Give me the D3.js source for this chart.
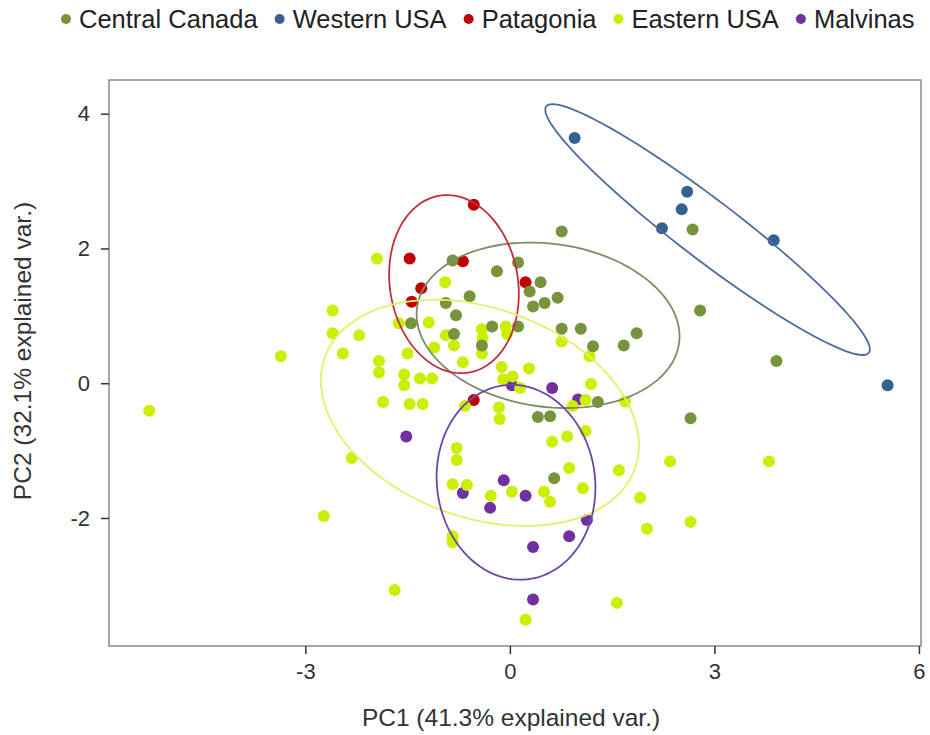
<!DOCTYPE html>
<html>
<head>
<meta charset="utf-8">
<script src="https://cdn.jsdelivr.net/npm/d3@7"></script>
<style>
  html, body { margin: 0; padding: 0; background: #fff; }
  svg { display: block; font-family: "Liberation Sans", Arial, sans-serif; }
</style>
</head>
<body>
<svg id="chart" width="930" height="735"></svg>
<script>
// ---------------- DATA ----------------
const groups = ["Central Canada", "Western USA", "Patagonia", "Eastern USA", "Malvinas"];
const groupColors = ["#77933C", "#376092", "#C00000", "#CCEE00", "#7030A0"];
const ellipseColors = ["#7d8c68", "#4a6d9a", "#c0303a", "#e4f06a", "#6f46a8"];

const centralCanadaPC1 = [0.76, 2.68, 2.79, 3.91, 2.65, -0.84, -0.19, 0.12, 0.45, 0.29, 0.70, 0.34, 0.51, -0.59, -0.94, -0.79, -1.45, -0.26, 0.12, 0.76, 1.04, 1.86, 1.67, 1.22, -0.82, -0.41, 0.41, 0.59, 1.29, 0.65];
const centralCanadaPC2 = [2.25, 2.28, 1.08, 0.33, -0.52, 1.82, 1.66, 1.79, 1.50, 1.36, 1.27, 1.14, 1.19, 1.29, 1.19, 1.01, 0.89, 0.84, 0.84, 0.81, 0.81, 0.74, 0.56, 0.55, 0.73, 0.56, -0.50, -0.49, -0.28, -1.41];

const westernUSAPC1 = [0.95, 2.60, 2.52, 2.23, 3.87, 5.54];
const westernUSAPC2 = [3.64, 2.84, 2.58, 2.30, 2.12, -0.03];

const patagoniaPC1 = [-0.53, -1.47, -0.69, -1.30, -1.44, 0.23, -0.53];
const patagoniaPC2 = [2.65, 1.85, 1.81, 1.41, 1.21, 1.50, -0.25];

const easternUSAPC1 = [-5.29, -3.36, -2.73, -1.69, -2.32, -1.86, -2.60, -2.60, -2.45, -2.21, -1.95, -1.92, -1.92, -1.55, -1.55, -1.63, -1.50, -1.47, -1.28, -1.32, -1.14, -1.19, -1.11, -0.95, -0.94, -0.82, -0.41, -0.40, -0.41, -0.69, -0.06, -0.04, -0.12, 0.04, -0.10, 0.28, 0.15, -0.16, -0.15, -0.66, 0.76, 1.17, 1.19, 0.92, 1.11, 1.69, 0.84, 1.11, 0.62, -0.78, -0.78, 0.87, 1.60, 1.07, -0.84, -0.63, -0.28, 0.03, 0.50, 0.59, 1.91, 2.01, 2.65, 2.35, 3.80, -0.84, -0.84, 1.57, 0.23];
const easternUSAPC2 = [-0.41, 0.40, -1.97, -3.07, -1.11, -0.28, 1.08, 0.74, 0.44, 0.71, 1.85, 0.33, 0.16, 0.13, -0.03, 0.89, 0.44, -0.31, -0.31, 0.07, 0.07, 0.90, 0.53, 1.50, 0.71, 0.56, 0.80, 0.67, 0.44, 0.31, 0.84, 0.73, 0.24, 0.10, 0.06, 0.22, -0.07, -0.36, -0.53, -0.34, 0.62, 0.40, -0.01, -0.34, -0.25, -0.27, -0.79, -0.71, -0.87, -0.96, -1.14, -1.26, -1.29, -1.56, -1.50, -1.51, -1.67, -1.61, -1.61, -1.76, -1.70, -2.16, -2.06, -1.16, -1.16, -2.27, -2.36, -3.26, -3.51];

const malvinasPC1 = [0.62, 1.00, -1.52, -0.09, -0.69, 0.23, -0.29, 1.13, 0.87, 0.34, 0.34, 0.03];
const malvinasPC2 = [-0.07, -0.24, -0.79, -1.44, -1.63, -1.67, -1.85, -2.03, -2.27, -2.43, -3.21, -0.03];

// ellipse parameters per group (data units): centre, semi-axes, rotation (deg)
const ellipseCX = [0.56, 2.90, -0.82, -0.44, 0.09];
const ellipseCY = [0.86, 2.28, 1.47, -0.44, -1.47];
const ellipseA  = [1.94, 2.99, 1.33, 2.42, 1.45];
const ellipseB  = [1.21, 0.44, 0.94, 1.55, 1.16];
const ellipseAngle = [-8, -37.7, 99, -20.3, 97];

const xTicks = [-3, 0, 3, 6];
const yTicks = [-2, 0, 2, 4];
const xTitle = "PC1 (41.3% explained var.)";
const yTitle = "PC2 (32.1% explained var.)";

// ---------------- CHART ----------------
const svg = d3.select("#chart");
const mLeft = 109, mRight = 921, mTop = 80, mBottom = 646;

const x = d3.scaleLinear().domain([-5.88, 6.03]).range([mLeft, mRight]);
const y = d3.scaleLinear().domain([-3.90, 4.50]).range([mBottom, mTop]);

svg.append("rect").attr("width", 930).attr("height", 735).attr("fill", "#fff");

const seriesX = [centralCanadaPC1, westernUSAPC1, patagoniaPC1, easternUSAPC1, malvinasPC1];
const seriesY = [centralCanadaPC2, westernUSAPC2, patagoniaPC2, easternUSAPC2, malvinasPC2];

// draw order of point layers
const drawOrder = [4, 2, 3, 0, 1];
const pts = svg.append("g");
drawOrder.forEach(gi => {
  const data = seriesX[gi].map((v, i) => ({x: v, y: seriesY[gi][i]}));
  pts.selectAll(null).data(data).enter().append("circle")
    .attr("cx", d => x(d.x)).attr("cy", d => y(d.y)).attr("r", 6)
    .attr("fill", groupColors[gi]);
});

// ellipses
const line = d3.line().x(d => x(d[0])).y(d => y(d[1]));
const el = svg.append("g").attr("fill", "none").attr("stroke-width", 1.8);
groups.forEach((g, gi) => {
  const th = ellipseAngle[gi] * Math.PI / 180;
  const pts2 = d3.range(0, 101).map(k => {
    const t = k / 100 * 2 * Math.PI;
    const a = ellipseA[gi] * Math.cos(t), b = ellipseB[gi] * Math.sin(t);
    return [ellipseCX[gi] + a * Math.cos(th) - b * Math.sin(th),
            ellipseCY[gi] + a * Math.sin(th) + b * Math.cos(th)];
  });
  el.append("path").attr("d", line(pts2)).attr("stroke", ellipseColors[gi]);
});

// frame
svg.append("rect").attr("x", mLeft).attr("y", mTop)
  .attr("width", mRight - mLeft).attr("height", mBottom - mTop)
  .attr("fill", "none").attr("stroke", "#8a8a8a").attr("stroke-width", 1.5);

// axes
const xAxis = svg.append("g").attr("transform", `translate(0,${mBottom})`)
  .call(d3.axisBottom(x).tickValues(xTicks).tickSize(8).tickPadding(9).tickFormat(d => String(d)));
const yAxis = svg.append("g").attr("transform", `translate(${mLeft},0)`)
  .call(d3.axisLeft(y).tickValues(yTicks).tickSize(8).tickPadding(11).tickFormat(d => String(d)));
[xAxis, yAxis].forEach(a => {
  a.select(".domain").remove();
  a.selectAll(".tick line").attr("stroke", "#333").attr("stroke-width", 1.5);
  a.selectAll(".tick text").attr("fill", "#333").style("font-size", "22px")
    .style("font-family", "'Liberation Sans', Arial, sans-serif");
});

// titles
svg.append("text").attr("x", 511).attr("y", 726).attr("text-anchor", "middle")
  .attr("fill", "#333").style("font-size", "24.5px").text(xTitle);
svg.append("text").attr("transform", "translate(31,351) rotate(-90)")
  .attr("text-anchor", "middle").attr("fill", "#333").style("font-size", "24.5px").text(yTitle);

// legend
const leg = svg.append("g");
let lx = 66;
groups.forEach((g, gi) => {
  leg.append("circle").attr("cx", lx).attr("cy", 19).attr("r", 5).attr("fill", groupColors[gi]);
  const t = leg.append("text").attr("x", lx + 13).attr("y", 28)
    .attr("fill", "#222").style("font-size", "25.5px").text(g);
  const w = t.node().getComputedTextLength();
  lx = lx + 13 + w + 22;
});
</script>
</body>
</html>
